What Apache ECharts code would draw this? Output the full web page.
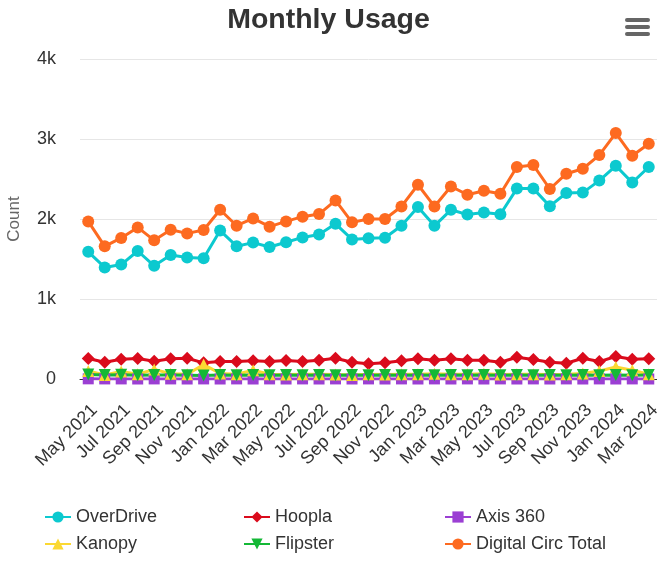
<!DOCTYPE html>
<html>
<head>
<meta charset="utf-8">
<script src="https://cdn.jsdelivr.net/npm/echarts@6/dist/echarts.min.js"></script>
<style>
  html, body { margin: 0; padding: 0; background: #fff; }
  #chart { width: 657px; height: 563px; }
</style>
</head>
<body>
<div id="chart"></div>
<script>
// categories
const months = [
  'May 2021', 'Jun 2021', 'Jul 2021', 'Aug 2021', 'Sep 2021', 'Oct 2021', 'Nov 2021', 'Dec 2021',
  'Jan 2022', 'Feb 2022', 'Mar 2022', 'Apr 2022', 'May 2022', 'Jun 2022', 'Jul 2022', 'Aug 2022',
  'Sep 2022', 'Oct 2022', 'Nov 2022', 'Dec 2022', 'Jan 2023', 'Feb 2023', 'Mar 2023', 'Apr 2023',
  'May 2023', 'Jun 2023', 'Jul 2023', 'Aug 2023', 'Sep 2023', 'Oct 2023', 'Nov 2023', 'Dec 2023',
  'Jan 2024', 'Feb 2024', 'Mar 2024'
];

// series values
const overDrive = [1590, 1395, 1430, 1600, 1415, 1550, 1520, 1510, 1855, 1660, 1705, 1650, 1710, 1770, 1805, 1940,
  1745, 1760, 1765, 1915, 2150, 1915, 2115, 2055, 2080, 2060, 2380, 2380, 2160, 2325, 2330, 2480, 2665, 2455, 2650];
const hoopla = [256, 210, 247, 256, 222, 252, 260, 202, 218, 218, 227, 218, 231, 218, 235, 260,
  210, 190, 202, 227, 252, 235, 252, 235, 235, 210, 272, 243, 210, 197, 260, 218, 281, 247, 252];
const axis360 = [2, 1, 1, 0, 1, 1, 0, 1, 0, 1, 0, 1, 0, 1, 0, 1,
  0, 1, 0, 1, 0, 1, 0, 1, 0, 1, 0, 1, 0, 1, 0, 1, 0, 1, 0];
const kanopy = [100, 50, 95, 60, 120, 65, 60, 180, 70, 60, 110, 60, 55, 60, 60, 55,
  50, 60, 55, 60, 60, 65, 60, 60, 65, 55, 60, 60, 55, 60, 70, 100, 150, 110, 60];
const flipster = [55, 50, 52, 48, 50, 50, 48, 45, 50, 48, 50, 48, 50, 48, 50, 48,
  50, 48, 50, 48, 50, 48, 50, 48, 50, 48, 50, 48, 50, 48, 50, 48, 50, 48, 50];
const circTotal = [1970, 1658, 1763, 1895, 1733, 1866, 1820, 1863, 2116, 1916, 2007, 1904, 1970, 2029, 2062, 2232,
  1958, 2000, 2000, 2157, 2428, 2157, 2407, 2303, 2353, 2316, 2649, 2674, 2375, 2566, 2628, 2799, 3074, 2790, 2940];

// y ticks
const yTicks = [0, 1000, 2000, 3000, 4000];
const yTickLabels = ['0', '1k', '2k', '3k', '4k'];

const FONT = '"Liberation Sans", Arial, sans-serif';

const mkSeries = (name, data, color, symbol, size) => ({
  name: name,
  type: 'line',
  data: data,
  symbol: symbol,
  symbolSize: size,
  showAllSymbol: true,
  lineStyle: { color: color, width: 3 },
  itemStyle: { color: color },
  emphasis: { disabled: true },
  animation: false
});

// one vertical legend per column, two rows each
const legendBase = {
  orient: 'vertical',
  top: 508,
  height: 55,
  padding: 0,
  itemWidth: 26,
  itemHeight: 14,
  itemGap: 9,
  textStyle: { fontSize: 18, color: '#333', fontFamily: FONT }
};

const chart = echarts.init(document.getElementById('chart'));

chart.setOption({
  backgroundColor: '#fff',
  animation: false,
  title: {
    text: 'Monthly Usage',
    left: 'center',
    top: 1,
    textStyle: { fontSize: 28.5, fontWeight: 'bold', color: '#333', fontFamily: FONT }
  },
  legend: [
    Object.assign({}, legendBase, { left: 44, data: ['OverDrive', 'Kanopy'] }),
    Object.assign({}, legendBase, { left: 243, data: ['Hoopla', 'Flipster'] }),
    Object.assign({}, legendBase, { left: 444, data: ['Axis 360', 'Digital Circ Total'] })
  ],
  grid: { left: 80, right: 0, top: 59, bottom: 184, containLabel: false, outerBoundsMode: 'none' },
  xAxis: {
    type: 'category',
    data: months,
    boundaryGap: true,
    axisLine: { show: true, lineStyle: { color: '#333', width: 1 } },
    axisTick: { show: false },
    axisLabel: {
      interval: 1,
      rotate: 45,
      align: 'right',
      verticalAlign: 'top',
      margin: 22,
      fontSize: 18,
      color: '#333',
      fontFamily: FONT
    }
  },
  yAxis: {
    type: 'value',
    min: yTicks[0],
    max: yTicks[yTicks.length - 1],
    interval: 1000,
    name: 'Count',
    nameLocation: 'middle',
    nameGap: 57,
    nameTextStyle: { fontSize: 17, color: '#666', fontFamily: FONT },
    axisLine: { show: false },
    axisTick: { show: false },
    splitLine: { lineStyle: { color: '#e6e6e6', width: 1 } },
    axisLabel: {
      fontSize: 18,
      color: '#333',
      margin: 24,
      padding: [5, 0, 0, 0],
      fontFamily: FONT,
      formatter: v => yTickLabels[yTicks.indexOf(v)]
    }
  },
  series: [
    mkSeries('OverDrive', overDrive, '#0cc9cf', 'circle', 12),
    mkSeries('Hoopla', hoopla, '#da0b1c', 'diamond', 13),
    mkSeries('Axis 360', axis360, '#9b3fd3', 'rect', 11),
    mkSeries('Kanopy', kanopy, '#fbd832', 'triangle', 12),
    mkSeries('Flipster', flipster, '#14b836', 'path://M0,0 L10,0 L5,9 Z', 12),
    mkSeries('Digital Circ Total', circTotal, '#fd6a20', 'circle', 12)
  ],
  graphic: [
    { type: 'rect', left: 625, top: 18, shape: { width: 25, height: 4, r: 2 }, style: { fill: '#666' } },
    { type: 'rect', left: 625, top: 25, shape: { width: 25, height: 4, r: 2 }, style: { fill: '#666' } },
    { type: 'rect', left: 625, top: 32, shape: { width: 25, height: 4, r: 2 }, style: { fill: '#666' } }
  ]
});
</script>
</body>
</html>
